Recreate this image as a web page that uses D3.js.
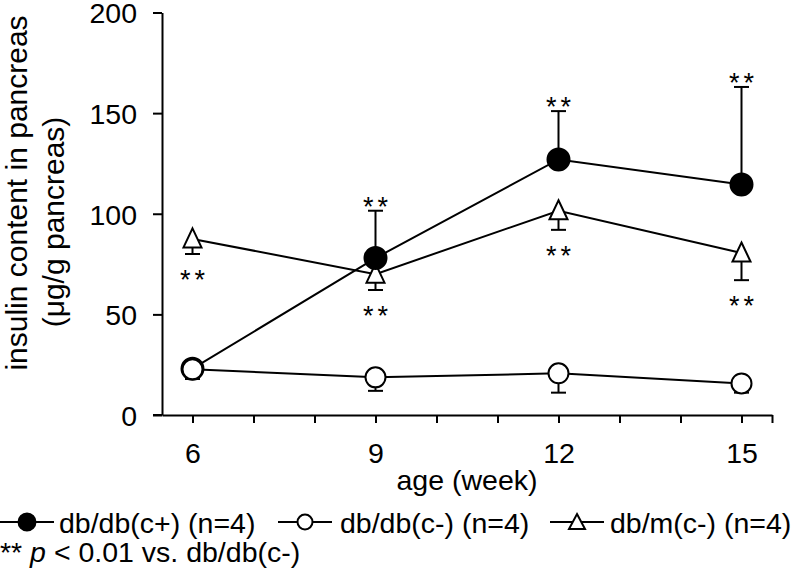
<!DOCTYPE html>
<html><head><meta charset="utf-8">
<script src="https://cdn.jsdelivr.net/npm/d3@7"></script>
<style>
body{margin:0;background:#fff}
svg{display:block}
text{font-family:"Liberation Sans",Arial,sans-serif;fill:#000}
</style>
</head><body><svg id="c" width="795" height="576"></svg>
<script>
// ---- data ----
const weeks = [6, 9, 12, 15];
const xTickValues = [6, 7, 8, 9, 10, 11, 12, 13, 14, 15, 15.5];
const xTickLabels = [6, 9, 12, 15];
const yTickValues = [0, 50, 100, 150, 200];
const cPlusMean = [23, 78, 127, 114.5];
const cPlusSD = [4, 23.5, 24, 48.5];      // drawn upward
const cMinusMean = [22.7, 18.7, 20.7, 15.7];
const cMinusSD = [4.8, 6.7, 9.6, 4.6];    // drawn downward
const dbmMean = [87.5, 70, 101.5, 80.5];
const dbmSD = [7.5, 7.9, 9.5, 13.5];      // drawn downward
const cPlusSig = [false, true, true, true];
const dbmSig = [true, true, true, true];
const legendLabels = ["db/db(c+) (n=4)", "db/db(c-) (n=4)", "db/m(c-) (n=4)"];
const yTitle = ["insulin content in pancreas", "(\u03bcg/g pancreas)"];
const xTitle = "age (week)";

// ---- layout ----
const svg = d3.select("#c");
const x = d3.scaleLinear().domain([5.5, 15.5]).range([162, 772]);
const y = d3.scaleLinear().domain([0, 200]).range([415, 12.5]);
const FS = 28.5;

// axes
const yAxis = d3.axisLeft(y).tickValues(yTickValues).tickSize(9).tickSizeOuter(0).tickPadding(16);
const gy = svg.append("g").attr("transform", `translate(${x(5.5)},0)`).call(yAxis);
gy.selectAll("text").style("font-size", FS + "px").attr("dy", "0.36em");

const xAxis = d3.axisBottom(x).tickValues(xTickValues).tickSize(8).tickSizeOuter(0).tickPadding(20)
  .tickFormat(d => xTickLabels.includes(d) ? d : "");
const gx = svg.append("g").attr("transform", `translate(0,${y(0)})`).call(xAxis);
gx.selectAll("text").style("font-size", FS + "px");
svg.append("line").attr("x1", x(5.5) - 9).attr("x2", x(5.5)).attr("y1", y(0)).attr("y2", y(0))
  .attr("stroke", "#000").attr("stroke-width", 2);
svg.selectAll(".domain, .tick line").attr("stroke", "#000").attr("stroke-width", 2);

// titles
svg.append("text").attr("x", 467).attr("y", 490).attr("text-anchor", "middle")
  .style("font-size", FS + "px").text(xTitle);
svg.append("text").attr("transform", "translate(27,193) rotate(-90)").attr("text-anchor", "middle")
  .style("font-size", "30px").text(yTitle[0]);
svg.append("text").attr("transform", "translate(64,222) rotate(-90)").attr("text-anchor", "middle")
  .style("font-size", "30px").text(yTitle[1]);

// series
const triPath = "M0,-10.5L9,8.5L-9,8.5Z";
const line = d3.line().x(d => x(d.w)).y(d => y(d.v));
function series(mean, sd, dir, kind, sig) {
  const pts = weeks.map((w, i) => ({w, v: mean[i], e: sd[i], s: sig ? sig[i] : false}));
  const g = svg.append("g");
  g.append("path").datum(pts).attr("d", line).attr("fill", "none").attr("stroke", "#000").attr("stroke-width", 2);
  pts.forEach(p => {
    const ye = y(p.v + dir * p.e);
    g.append("line").attr("x1", x(p.w)).attr("x2", x(p.w)).attr("y1", y(p.v)).attr("y2", ye)
      .attr("stroke", "#000").attr("stroke-width", 2);
    g.append("line").attr("x1", x(p.w) - 7.5).attr("x2", x(p.w) + 7.5).attr("y1", ye).attr("y2", ye)
      .attr("stroke", "#000").attr("stroke-width", 2);
    if (p.s) {
      const ty = dir > 0 ? ye - 11 + 16 : ye + 19 + 16;
      g.append("text").attr("x", x(p.w) + 2).attr("y", ty).attr("text-anchor", "middle")
        .style("font-size", "27px").style("letter-spacing", "4px").text("**");
    }
  });
  pts.forEach(p => {
    if (kind === "tri") {
      g.append("path").attr("d", triPath).attr("transform", `translate(${x(p.w)},${y(p.v)})`)
        .attr("fill", "#fff").attr("stroke", "#000").attr("stroke-width", 2);
    } else {
      g.append("circle").attr("cx", x(p.w)).attr("cy", y(p.v)).attr("r", kind === "filled" ? 11 : 10)
        .attr("fill", kind === "filled" ? "#000" : "#fff").attr("stroke", "#000").attr("stroke-width", 2);
    }
  });
}
series(dbmMean, dbmSD, -1, "tri", dbmSig);
series(cPlusMean, cPlusSD, 1, "filled", cPlusSig);
series(cMinusMean, cMinusSD, -1, "open", null);

// legend
const leg = [
  {x0: 0, kind: "filled", tx: 59},
  {x0: 278, kind: "open", tx: 340},
  {x0: 550, kind: "tri", tx: 610}
];
const ly = 522;
leg.forEach((l, i) => {
  const g = svg.append("g");
  g.append("line").attr("x1", l.x0).attr("x2", l.x0 + 54).attr("y1", ly).attr("y2", ly)
    .attr("stroke", "#000").attr("stroke-width", 2);
  const cx = l.x0 + 27;
  if (l.kind === "tri") {
    g.append("path").attr("d", "M0,-8L8,7L-8,7Z").attr("transform", `translate(${cx},${ly})`)
      .attr("fill", "#fff").attr("stroke", "#000").attr("stroke-width", 2);
  } else {
    g.append("circle").attr("cx", cx).attr("cy", ly).attr("r", l.kind === "filled" ? 8.5 : 7.5)
      .attr("fill", l.kind === "filled" ? "#000" : "#fff").attr("stroke", "#000").attr("stroke-width", 2);
  }
  g.append("text").attr("x", l.tx).attr("y", 532.5).style("font-size", FS + "px").text(legendLabels[i]);
});
const note = svg.append("text").attr("x", 0).attr("y", 562).style("font-size", FS + "px");
note.append("tspan").text("** ");
note.append("tspan").style("font-style", "italic").text("p");
note.append("tspan").text(" < 0.01 vs. db/db(c-)");
</script>
</body></html>
